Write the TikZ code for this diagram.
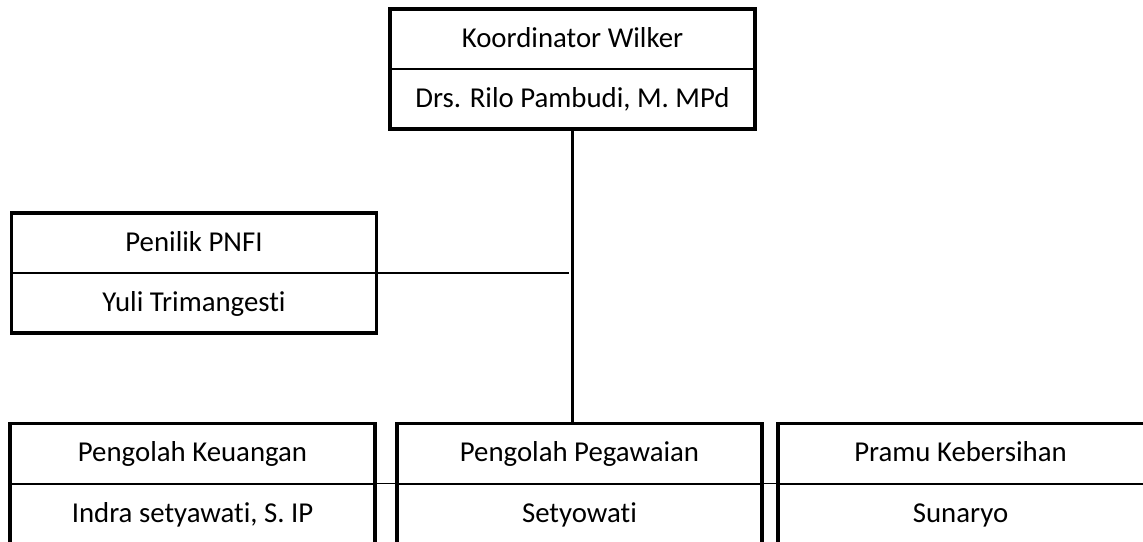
\documentclass[tikz,border=0pt]{standalone}
\usepackage{fontspec}
\setmainfont{Carlito}[Ligatures=NoCommon]
\usetikzlibrary{positioning, calc}

\tikzset{
    part/.style={draw, line width=1.5pt, outer sep=0pt, inner sep=0pt,
        minimum width=273.75pt, minimum height=45pt,
        text height=14pt, text depth=1.9pt,
        font=\fontsize{21.6}{25}\selectfont},
    lowpart/.style={part, minimum height=47pt},
    openpart/.style={part, draw=none},
    frame/.style={line width=2.6pt},
    link/.style={line width=2pt},
    thinlink/.style={line width=0.75pt}
}

\begin{document}
\begin{tikzpicture}[x=0.75pt, y=-0.75pt]
    \useasboundingbox (0,0) rectangle (1143,542);

    % koordinator
    \node[part] (koord) at (572.5,39) {Koordinator Wilker};
    \node[part, below=0pt of koord] (koordname) {Drs. Rilo Pambudi, M. MPd};
    \draw[frame] (koord.north west) rectangle (koordname.south east);

    % penilik
    \node[part] (penilik) at (194,243) {Penilik PNFI};
    \node[part, below=0pt of penilik] (penilikname) {Yuli Trimangesti};
    \draw[frame] (penilik.north west) rectangle (penilikname.south east);

    % staf
    \node[part] (keuangan) at (192.5,453.5) {Pengolah Keuangan};
    \node[lowpart, below=0pt of keuangan] (keuanganname) {Indra setyawati, S. IP};
    \draw[frame] (keuangan.north west) rectangle (keuanganname.south east);

    \node[part, right=16.5pt of keuangan] (pegawai) {Pengolah Pegawaian};
    \node[lowpart, below=0pt of pegawai] (pegawainame) {Setyowati};
    \draw[frame] (pegawai.north west) rectangle (pegawainame.south east);

    \node[openpart, right=12pt of pegawai] (kebersihan) {Pramu Kebersihan};
    \node[openpart, minimum height=47pt, below=0pt of kebersihan] (kebersihanname) {Sunaryo};
    \draw[line width=1.5pt] (kebersihan.south west) -- ([xshift=8pt]kebersihan.south east);
    \draw[frame] (kebersihan.north west) rectangle ([xshift=8pt]kebersihanname.south east);

    % garis
    \draw[link] (koordname.south) -- (koordname.south |- pegawai.north);
    \draw[link] (penilik.south east) -- ([xshift=-3pt]koordname.south |- penilik.south east);
    \draw[thinlink] (keuangan.south east) -- (keuangan.south east -| pegawai.south west);
    \draw[thinlink] (pegawai.south east) -- (pegawai.south east -| kebersihan.south west);
\end{tikzpicture}
\end{document}
